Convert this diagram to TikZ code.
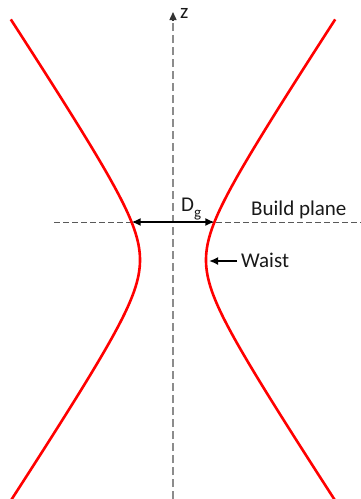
\documentclass[tikz,border=0pt]{standalone}
\usepackage{fontspec}
\setmainfont{Carlito}
\usetikzlibrary{arrows.meta}
\begin{document}
\begin{tikzpicture}[x=1pt,y=-1pt,
  beam/.style={draw=red,line width=2.6pt},
  axisline/.style={draw=gray!90,line width=1.4pt,dash pattern=on 8pt off 4pt},
  planeline/.style={draw=black!65,line width=1pt,dash pattern=on 6pt off 3pt},
  dimarrow/.style={draw=black,line width=1.8pt},
  lbl/.style={font=\fontsize{21}{25}\selectfont,inner sep=0pt,text=black!90}]
\useasboundingbox (0,0) rectangle (361,499);
% coordinates
\coordinate (axbot) at (173,499);
\coordinate (axtop) at (173,12);
\coordinate (plL) at (54,222);
\coordinate (plR) at (361,222);
\coordinate (dgL) at (131.6,222);
\coordinate (dgR) at (214.4,222);
\coordinate (wtail) at (237,261);
\coordinate (whead) at (209,261);
% axis
\draw[axisline] (axbot) -- (173,20);
\draw[draw=black!80,line width=1.4pt,-{Triangle[length=8pt,width=7pt]}] (173,21) -- (axtop);
\node[lbl,anchor=base west] (zl) at (180,18) {z};
% build plane
\draw[planeline] (plL) -- (plR);
\node[lbl,anchor=base west] (bp) at (251,215) {Build plane};
% beam
\draw[beam] plot[domain=-2.275:2.275,samples=120,variable=\t] ({173+33*cosh(\t)},{260+50*sinh(\t)});
\draw[beam] plot[domain=-2.275:2.275,samples=120,variable=\t] ({173-33*cosh(\t)},{260+50*sinh(\t)});
% D_g arrow
\draw[dimarrow,{Latex[length=9pt,width=8pt]}-{Latex[length=9pt,width=8pt]}] (dgL) -- (dgR);
\node[lbl,anchor=base west] (dg) at (181,211.5) {D\raisebox{-0.3em}{\fontsize{15}{15}\selectfont g}};
% waist
\draw[dimarrow,-{Latex[length=9pt,width=8pt]}] (wtail) -- (whead);
\node[lbl,anchor=base west] (wl) at (241,267) {Waist};
\end{tikzpicture}
\end{document}
